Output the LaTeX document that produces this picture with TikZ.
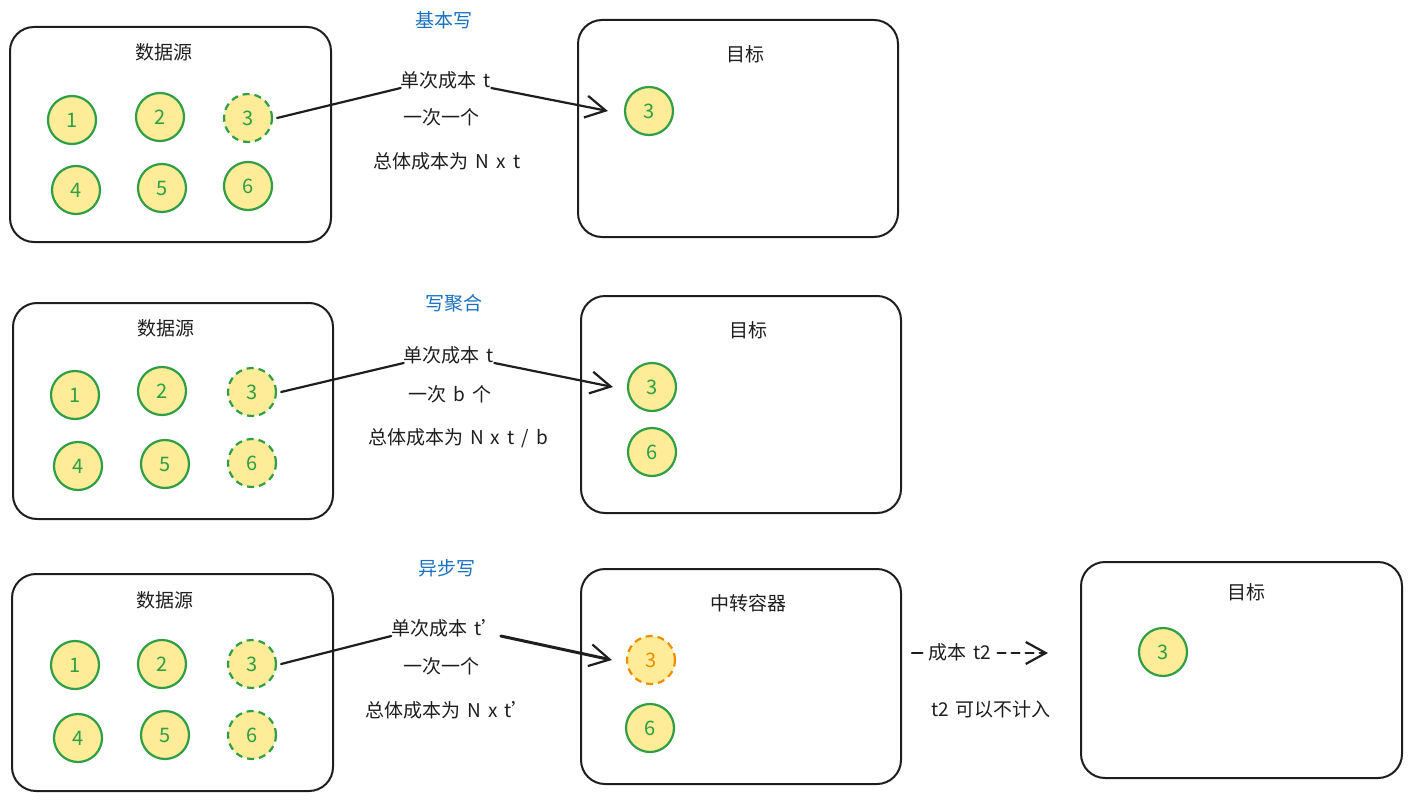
\documentclass[tikz,border=0pt]{standalone}
\usepackage{fontspec}
\setmainfont{Noto Sans CJK SC}
\usetikzlibrary{arrows.meta}
\definecolor{cfill}{HTML}{FFEC99}
\definecolor{cgreen}{HTML}{2F9E44}
\definecolor{corange}{HTML}{F08C00}
\definecolor{cblue}{HTML}{1971C2}
\definecolor{cink}{HTML}{1E1E1E}
\newcommand{\gp}{\hspace{7pt}}
\tikzset{
  box/.style={draw=cink, line width=2pt, rounded corners=24pt, inner sep=0pt},
  ball/.style={circle, draw=cgreen, fill=cfill, line width=2.2pt, minimum size=48pt, inner sep=0pt, text=cgreen, font=\fontsize{20}{20}\selectfont},
  dball/.style={ball, dashed, dash pattern=on 7pt off 5pt},
  oball/.style={ball, draw=corange, text=corange, dashed, dash pattern=on 7pt off 5pt},
  title/.style={font=\fontsize{19}{19}\selectfont, text=cink},
  lbl/.style={font=\fontsize{19}{19}\selectfont, text=cink, inner sep=2pt},
  head/.style={font=\fontsize{19}{19}\selectfont, text=cblue},
  conn/.style={draw=cink, line width=2.2pt, line cap=round},
  tip/.style={-{Straight Barb[length=20pt,width=22pt,line width=2.2pt]}}
}
\begin{document}
\begin{tikzpicture}[x=1pt,y=-1pt]
\useasboundingbox (0,0) rectangle (1411,800);
% ---------- row 1 ----------
\node[box, minimum width=321pt, minimum height=215pt] (S1) at (170.5,134.5) {};
\node[box, minimum width=320pt, minimum height=217pt] (T1) at (738,128.5) {};
\node[title] (S1t) at (164,52) {数据源};
\node[title] (T1t) at (745,54) {目标};
\node[ball] (a1) at (72,120) {1};
\node[ball] (a2) at (160,117) {2};
\node[dball] (a3) at (248,118) {3};
\node[ball] (a4) at (76,190) {4};
\node[ball] (a5) at (162,188) {5};
\node[ball] (a6) at (248,186) {6};
\node[ball] (ta3) at (649,111) {3};
\node[head] (H1) at (444,20) {基本写};
\node[lbl] (L1a) at (446,80) {单次成本\gp t};
\node[lbl] (L1b) at (441,117) {一次一个};
\node[lbl] (L1c) at (447,161) {总体成本为\gp N\gp x\gp t};
\draw[conn] ([xshift=4pt]a3.east) -- ([yshift=-8pt,xshift=2pt]L1a.west);
\draw[conn, tip] ([yshift=-8pt,xshift=-2pt]L1a.east) -- ([xshift=-16pt]ta3.west);
% ---------- row 2 ----------
\node[box, minimum width=320pt, minimum height=216pt] (S2) at (173,411) {};
\node[box, minimum width=320pt, minimum height=217pt] (T2) at (741,404.5) {};
\node[title] (S2t) at (166,328) {数据源};
\node[title] (T2t) at (748,330) {目标};
\node[ball] (b1) at (75,395) {1};
\node[ball] (b2) at (162,391) {2};
\node[dball] (b3) at (252,392) {3};
\node[ball] (b4) at (78,466) {4};
\node[ball] (b5) at (165,464) {5};
\node[dball] (b6) at (252,463) {6};
\node[ball] (tb3) at (652,387) {3};
\node[ball] (tb6) at (652,452) {6};
\node[head] (H2) at (454,303) {写聚合};
\node[lbl] (L2a) at (449,355) {单次成本\gp t};
\node[lbl] (L2b) at (450,394) {一次\gp b\gp 个};
\node[lbl] (L2c) at (458,438) {总体成本为\gp N\gp x\gp t\gp /\gp b};
\draw[conn] ([xshift=4pt]b3.east) -- ([yshift=-8pt,xshift=2pt]L2a.west);
\draw[conn, tip] ([yshift=-8pt,xshift=-2pt]L2a.east) -- ([xshift=-14pt]tb3.west);
% ---------- row 3 ----------
\node[box, minimum width=321pt, minimum height=217pt] (S3) at (172.5,682.5) {};
\node[box, minimum width=320pt, minimum height=215pt] (R3) at (741,676.5) {};
\node[box, minimum width=321pt, minimum height=216pt] (T3) at (1241.5,670) {};
\node[title] (S3t) at (165,600) {数据源};
\node[title] (R3t) at (748,603) {中转容器};
\node[title] (T3t) at (1246,592) {目标};
\node[ball] (c1) at (75,665) {1};
\node[ball] (c2) at (162,664) {2};
\node[dball] (c3) at (252,664) {3};
\node[ball] (c4) at (78,738) {4};
\node[ball] (c5) at (165,735) {5};
\node[dball] (c6) at (252,735) {6};
\node[oball] (rc3) at (651,660) {3};
\node[ball] (rc6) at (650,728) {6};
\node[ball] (tc3) at (1163,652) {3};
\node[head] (H3) at (447,568) {异步写};
\node[lbl] (L3a) at (446,628) {单次成本\gp t’};
\node[lbl] (L3b) at (441,666) {一次一个};
\node[lbl] (L3c) at (448,710) {总体成本为\gp N\gp x\gp t’};
\node[lbl] (L3d) at (991,709) {t2\gp 可以不计入};
\draw[conn] ([xshift=4pt]c3.east) -- ([yshift=-8pt,xshift=2pt]L3a.west);
\draw[conn, line width=3pt, tip] ([yshift=-8pt,xshift=-2pt]L3a.east) -- ([xshift=-14pt]rc3.west);
\coordinate (d1) at (912,653);
\coordinate (d2) at (1048,653);
\node[lbl, inner sep=6pt] (D3) at (960,652) {成本\gp t2};
\draw[conn] (d1) -- (D3.west |- d1);
\draw[conn, dash pattern=on 8pt off 6pt, tip] (D3.east |- d2) -- (d2);
\end{tikzpicture}
\end{document}
